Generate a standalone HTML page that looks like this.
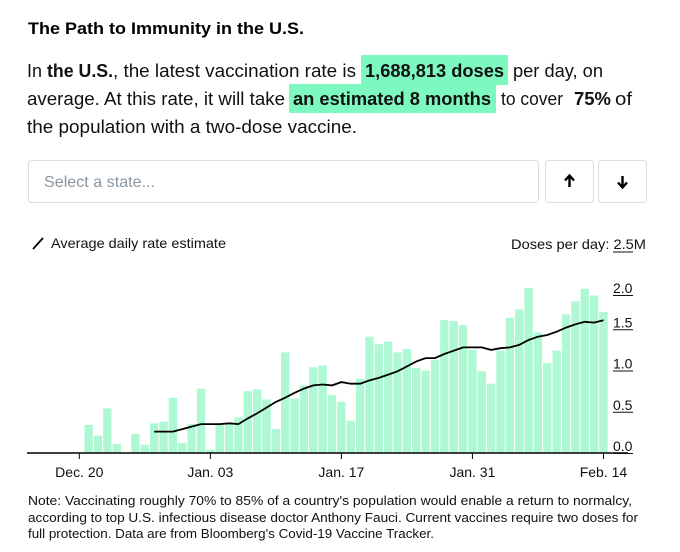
<!DOCTYPE html>
<html><head><meta charset="utf-8"><style>
body{margin:0;background:#fff;}
svg{display:block;font-family:"Liberation Sans",sans-serif;}
</style></head><body>
<svg id="page" width="680" height="552" viewBox="0 0 680 552" xmlns="http://www.w3.org/2000/svg">
<text x="28" y="34" font-size="17" font-weight="bold" fill="#000" textLength="276" lengthAdjust="spacingAndGlyphs">The Path to Immunity in the U.S.</text>
<g font-size="18" fill="#111">
<rect x="361" y="55" width="147" height="30" fill="#7df9c0"/>
<rect x="289" y="84" width="207" height="29" fill="#7df9c0"/>
<text x="27" y="77" textLength="15" lengthAdjust="spacingAndGlyphs">In</text>
<text x="47" y="77" font-weight="bold" textLength="66" lengthAdjust="spacingAndGlyphs">the U.S.</text>
<text x="113" y="77" textLength="243" lengthAdjust="spacingAndGlyphs">, the latest vaccination rate is</text>
<text x="365" y="77" font-weight="bold" textLength="139" lengthAdjust="spacingAndGlyphs">1,688,813 doses</text>
<text x="513" y="77" textLength="90" lengthAdjust="spacingAndGlyphs">per day, on</text>
<text x="27" y="105" textLength="258" lengthAdjust="spacingAndGlyphs">average. At this rate, it will take</text>
<text x="293" y="105" font-weight="bold" textLength="198" lengthAdjust="spacingAndGlyphs">an estimated 8 months</text>
<text x="501" y="105" textLength="62" lengthAdjust="spacingAndGlyphs">to cover</text>
<text x="574" y="105" font-weight="bold" textLength="37" lengthAdjust="spacingAndGlyphs">75%</text>
<text x="615" y="105" textLength="17" lengthAdjust="spacingAndGlyphs">of</text>
<text x="27" y="133" textLength="330" lengthAdjust="spacingAndGlyphs">the population with a two-dose vaccine.</text>
</g>
<g>
<rect x="28.5" y="160.5" width="510" height="42" rx="3" fill="#fff" stroke="#d9dde2"/>
<text x="44" y="187" font-size="16" fill="#8a96a3" textLength="111" lengthAdjust="spacingAndGlyphs">Select a state...</text>
</g>
<g>
<rect x="545.5" y="160.5" width="48" height="42" rx="3" fill="#fff" stroke="#d9dde2"/>
<path d="M569.5 187V176M565 180.5L569.5 175.5L574 180.5" stroke="#000" stroke-width="2.4" fill="none"/>
</g>
<g>
<rect x="598.5" y="160.5" width="48" height="42" rx="3" fill="#fff" stroke="#d9dde2"/>
<path d="M622.5 176V187M618 182.5L622.5 187.5L627 182.5" stroke="#000" stroke-width="2.4" fill="none"/>
</g>
<g>
<line x1="33" y1="249" x2="43" y2="238" stroke="#000" stroke-width="1.8"/>
<text x="51" y="248" font-size="14" fill="#111" textLength="175" lengthAdjust="spacingAndGlyphs">Average daily rate estimate</text>
</g>
<text x="511" y="249" font-size="14" fill="#111" textLength="135" lengthAdjust="spacingAndGlyphs">Doses per day: 2.5M</text>
<line x1="613" y1="252" x2="633" y2="252" stroke="#111" stroke-width="1"/>
<g id="bars"></g>
<g id="axis"></g>
<g id="yaxis"></g>
<path id="avgline" fill="none" stroke="#000" stroke-width="1.8"/>
<g font-size="13" fill="#111">
<text x="28" y="505" textLength="604" lengthAdjust="spacingAndGlyphs">Note: Vaccinating roughly 70% to 85% of a country's population would enable a return to normalcy,</text>
<text x="28" y="522" textLength="610" lengthAdjust="spacingAndGlyphs">according to top U.S. infectious disease doctor Anthony Fauci. Current vaccines require two doses for</text>
<text x="28" y="538" textLength="406" lengthAdjust="spacingAndGlyphs">full protection. Data are from Bloomberg's Covid-19 Vaccine Tracker.</text>
</g>
</svg>
<script>
const dailyDoses = [0.34,0.21,0.54,0.11,0,0.23,0.10,0.36,0.38,0.67,0.12,
0.35,0.78,0.04,0.35,0.36,0.43,0.75,0.77,0.65,0.29,1.22,0.66,0.82,1.04,1.06,0.70,0.62,0.39,0.90,1.41,1.32,1.35,1.22,1.26,1.03,1.00,1.13,1.61,1.60,1.55,1.25,
0.99,0.84,1.24,1.64,1.74,2.00,1.46,1.09,1.24,1.68,1.84,1.99,1.91,1.71];
const avgStartIndex = 7;
const avgRate = [0.26,0.26,0.26,0.29,0.32,0.35,0.35,0.35,0.36,0.35,0.42,0.48,0.55,0.62,0.67,0.73,0.78,0.82,0.83,0.82,0.86,0.84,0.84,0.88,0.91,0.95,0.99,1.05,1.11,1.15,1.15,1.20,1.24,1.28,1.28,1.28,1.25,1.27,1.28,1.31,1.37,1.41,1.43,1.47,1.52,1.56,1.59,1.58,1.61];
const xTickLabels = ["Dec. 20","Jan. 03","Jan. 17","Jan. 31","Feb. 14"];
const xTickDayIndex = [-1,13,27,41,55];
const yTickValues = [0,0.5,1.0,1.5,2.0];
const yTickLabels = ["0.0","0.5","1.0","1.5","2.0"];

const NS="http://www.w3.org/2000/svg";
const x0=88.66, dx=9.36, y0=453, ky=82.5;
const xScale=i=>x0+i*dx;
const yScale=v=>y0-v*ky;
function mk(tag,attrs,parent){const e=document.createElementNS(NS,tag);for(const k in attrs)e.setAttribute(k,attrs[k]);parent.appendChild(e);return e;}
const bars=document.getElementById('bars');
dailyDoses.forEach((v,i)=>{
  if(v<=0)return;
  const r=mk('rect',{x:xScale(i)-dx/2+0.5,y:yScale(v),width:dx-1,height:y0-yScale(v),fill:'#aef8d4'},bars);
  
  
});
const ax=document.getElementById('axis');
const base=mk('line',{x1:27,y1:y0,x2:628,y2:y0,stroke:'#000','stroke-width':1.5},ax);


xTickLabels.forEach((lab,i)=>{
  const x=xScale(xTickDayIndex[i]);
  const t=mk('line',{x1:x,y1:y0,x2:x,y2:459,stroke:'#000','stroke-width':1},ax);
  
  
  const tx=mk('text',{x:x,y:477,'font-size':14,'text-anchor':'middle',fill:'#111'},ax);
  tx.textContent=lab;
  
  
});
const ya=document.getElementById('yaxis');
yTickValues.forEach((v,i)=>{
  const y=Math.max(yScale(v)-2,293);
  const tx=mk('text',{x:613,y:y,'font-size':14,fill:'#111'},ya);
  tx.textContent=yTickLabels[i];
  
  
  const u=mk('line',{x1:613,y1:y+2.5,x2:633,y2:y+2.5,stroke:'#111','stroke-width':1},ya);
  
  
});
document.getElementById('avgline').setAttribute('d',avgRate.map((v,i)=>(i?'L':'M')+xScale(avgStartIndex+i).toFixed(1)+' '+yScale(v).toFixed(1)).join(''));
</script>
</body></html>
